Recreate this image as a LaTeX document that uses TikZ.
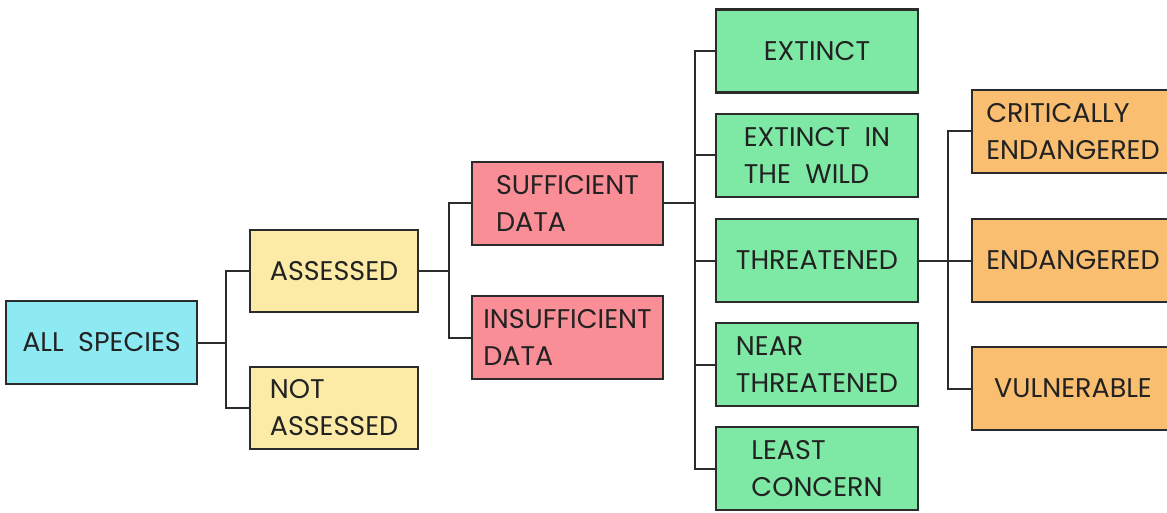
\documentclass[tikz,border=0pt]{standalone}
\usepackage{fontspec}
\setmainfont{Poppins}
\definecolor{species}{HTML}{8EEAF2}
\definecolor{assess}{HTML}{FBEBA6}
\definecolor{datafill}{HTML}{F98E96}
\definecolor{status}{HTML}{7EE9A4}
\definecolor{danger}{HTML}{F9BE70}
\definecolor{edge}{HTML}{2B2B2B}
\definecolor{ink}{HTML}{222222}
\tikzset{box/.style={draw=edge, line width=2.1pt, text=ink, minimum height=83pt, inner sep=0pt,
    align=left, font=\fontsize{27}{37}\selectfont}}
\tikzset{link/.style={draw=edge, line width=2pt}}

\begin{document}
\begin{tikzpicture}[x=1pt, y=-1pt]
    \useasboundingbox (0,0) rectangle (1167,513);

    % Root and first split
    \node[box, fill=species, minimum width=191pt] (all) at (101.5,342.5) {ALL~~SPECIES};
    \node[box, fill=assess, minimum width=168pt, minimum height=82pt] (ass) at (334,271) {ASSESSED};
    \node[box, fill=assess, minimum width=168pt, minimum height=82pt] (nass) at (334,408) {NOT\\ASSESSED};

    % Data split
    \node[box, fill=datafill, minimum width=191pt] (suf) at (567.5,203.5) {SUFFICIENT\\DATA};
    \node[box, fill=datafill, minimum width=191pt] (ins) at (567.5,337.5) {INSUFFICIENT\\DATA};

    % Status categories
    \node[box, fill=status, minimum width=202pt] (ext) at (817,51) {EXTINCT};
    \node[box, fill=status, minimum width=202pt] (ew) at (817,155.5) {EXTINCT~~IN\\THE~~WILD};
    \node[box, fill=status, minimum width=202pt] (thr) at (817,260.5) {THREATENED};
    \node[box, fill=status, minimum width=202pt] (nt) at (817,364.5) {NEAR\\THREATENED};
    \node[box, fill=status, minimum width=202pt] (lc) at (817,468.5) {LEAST\\CONCERN};

    % Threatened categories
    \node[box, fill=danger, minimum width=202pt] (ce) at (1073,131.5) {CRITICALLY\\ENDANGERED};
    \node[box, fill=danger, minimum width=202pt] (en) at (1073,260.5) {ENDANGERED};
    \node[box, fill=danger, minimum width=202pt] (vu) at (1073,388.5) {VULNERABLE};

    % Junction points of the tree
    \coordinate (j1) at (226,342.5);
    \coordinate (j2) at (449,271);
    \coordinate (j3) at (695,203.5);
    \coordinate (j4) at (948,260.5);

    % Connectors
    \draw[link] (all.east) -- (j1) |- (ass.west);
    \draw[link] (j1) |- (nass.west);
    \draw[link] (ass.east) -- (j2) |- (suf.west);
    \draw[link] (j2) |- (ins.west);
    \draw[link] (suf.east) -- (j3);
    \foreach \n in {ext,ew,thr,nt,lc}
        \draw[link] (j3) |- (\n.west);
    \draw[link] (thr.east) -- (j4);
    \foreach \n in {ce,en,vu}
        \draw[link] (j4) |- (\n.west);

\end{tikzpicture}
\end{document}
